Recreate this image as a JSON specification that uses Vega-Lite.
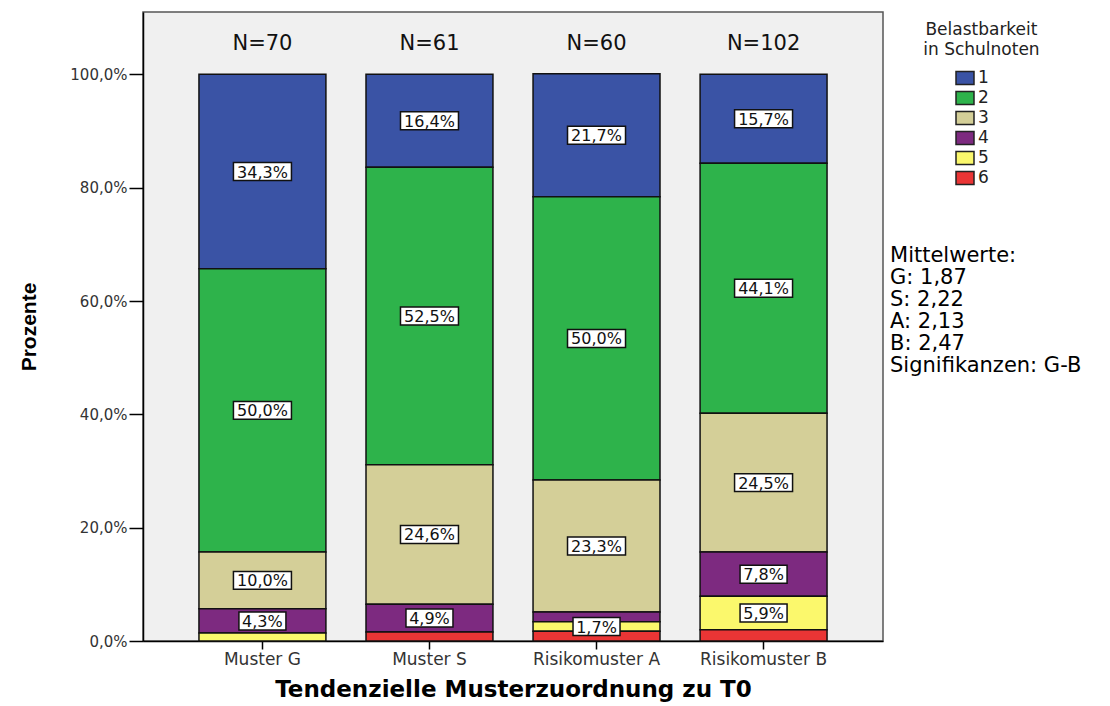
{
  "$schema": "https://vega.github.io/schema/vega-lite/v6.json",
  "autosize": {"type": "none"},
  "padding": {"left": 143, "top": 12, "right": 227, "bottom": 65},
  "width": 740,
  "height": 629,
  "background": "white",
  "config": {
    "view": {"fill": "#F0F0F0", "stroke": "#555555", "strokeWidth": 1.5},
    "axis": {"grid": false, "domainColor": "#000000", "domainWidth": 1.5, "tickColor": "#000000", "tickWidth": 1.5, "labelColor": "#333333", "titleColor": "#000000"}
  },
  "layer": [
    {
      "data": {"values": [
        {"group": "Muster G", "grade": "1", "pct": 0.343, "label": "34,3%"},
        {"group": "Muster G", "grade": "2", "pct": 0.500, "label": "50,0%"},
        {"group": "Muster G", "grade": "3", "pct": 0.100, "label": "10,0%"},
        {"group": "Muster G", "grade": "4", "pct": 0.043, "label": "4,3%"},
        {"group": "Muster G", "grade": "5", "pct": 0.014, "label": ""},
        {"group": "Muster S", "grade": "1", "pct": 0.164, "label": "16,4%"},
        {"group": "Muster S", "grade": "2", "pct": 0.525, "label": "52,5%"},
        {"group": "Muster S", "grade": "3", "pct": 0.246, "label": "24,6%"},
        {"group": "Muster S", "grade": "4", "pct": 0.049, "label": "4,9%"},
        {"group": "Muster S", "grade": "6", "pct": 0.016, "label": ""},
        {"group": "Risikomuster A", "grade": "1", "pct": 0.217, "label": "21,7%"},
        {"group": "Risikomuster A", "grade": "2", "pct": 0.500, "label": "50,0%"},
        {"group": "Risikomuster A", "grade": "3", "pct": 0.233, "label": "23,3%"},
        {"group": "Risikomuster A", "grade": "4", "pct": 0.017, "label": ""},
        {"group": "Risikomuster A", "grade": "5", "pct": 0.017, "label": "1,7%"},
        {"group": "Risikomuster A", "grade": "6", "pct": 0.017, "label": ""},
        {"group": "Risikomuster B", "grade": "1", "pct": 0.157, "label": "15,7%"},
        {"group": "Risikomuster B", "grade": "2", "pct": 0.441, "label": "44,1%"},
        {"group": "Risikomuster B", "grade": "3", "pct": 0.245, "label": "24,5%"},
        {"group": "Risikomuster B", "grade": "4", "pct": 0.078, "label": "7,8%"},
        {"group": "Risikomuster B", "grade": "5", "pct": 0.059, "label": "5,9%"},
        {"group": "Risikomuster B", "grade": "6", "pct": 0.020, "label": ""}
      ]},
      "transform": [
        {"stack": "pct", "groupby": ["group"], "sort": [{"field": "grade", "order": "descending"}], "as": ["y0", "y1"]},
        {"calculate": "(datum.y0 + datum.y1) / 2", "as": "ymid"}
      ],
      "encoding": {
        "x": {
          "field": "group", "type": "nominal",
          "sort": ["Muster G", "Muster S", "Risikomuster A", "Risikomuster B"],
          "scale": {"domain": ["Muster G", "Muster S", "Risikomuster A", "Risikomuster B"], "paddingInner": 0.24, "paddingOuter": 0.335},
          "axis": {
            "title": "Tendenzielle Musterzuordnung zu T0",
            "titleFont": "DejaVu Sans", "titleFontWeight": "bold", "titleFontSize": 23, "titlePadding": 11,
            "labelAngle": 0, "labelFont": "DejaVu Sans", "labelFontSize": 17, "labelPadding": 2,
            "tickSize": 8
          }
        }
      },
      "layer": [
        {
          "mark": {"type": "bar", "stroke": "#111111", "strokeWidth": 1.5},
          "encoding": {
            "y": {
              "field": "y1", "type": "quantitative",
              "scale": {"domain": [0, 1.11], "nice": false, "zero": true},
              "axis": {
                "values": [0, 0.2, 0.4, 0.6, 0.8, 1.0],
                "labelExpr": "replace(format(datum.value, '.1%'), '.', ',')",
                "labelFont": "DejaVu Sans", "labelFontSize": 15, "labelPadding": 2,
                "tickSize": 14,
                "title": "Prozente", "titleFont": "Liberation Sans", "titleFontWeight": "bold", "titleFontSize": 21, "titlePadding": 30
              }
            },
            "y2": {"field": "y0"},
            "color": {
              "field": "grade", "type": "nominal",
              "scale": {"domain": ["1", "2", "3", "4", "5", "6"], "range": ["#3A53A5", "#2EB34B", "#D4CF98", "#7D2A80", "#FBF86C", "#EA3535"]},
              "legend": {
                "title": null, "orient": "none", "legendX": 812, "legendY": 56,
                "symbolType": "M-1,-0.72H1V0.72H-1Z", "symbolSize": 324,
                "symbolStrokeColor": "#222222", "symbolStrokeWidth": 1.5, "symbolOpacity": 1,
                "labelFont": "DejaVu Sans", "labelFontSize": 17, "labelColor": "#222222", "labelOffset": 3,
                "rowPadding": 0, "padding": 0
              }
            }
          }
        },
        {
          "transform": [{"filter": "length(datum.label) == 5"}],
          "mark": {"type": "point", "shape": "M-1,-0.31H1V0.31H-1Z", "size": 3364, "filled": true, "fill": "white", "stroke": "#111111", "strokeWidth": 1.5, "opacity": 1},
          "encoding": {"y": {"field": "ymid", "type": "quantitative"}}
        },
        {
          "transform": [{"filter": "length(datum.label) == 4"}],
          "mark": {"type": "point", "shape": "M-1,-0.383H1V0.383H-1Z", "size": 2209, "filled": true, "fill": "white", "stroke": "#111111", "strokeWidth": 1.5, "opacity": 1},
          "encoding": {"y": {"field": "ymid", "type": "quantitative"}}
        },
        {
          "transform": [{"filter": "length(datum.label) > 0"}],
          "mark": {"type": "text", "font": "DejaVu Sans", "fontSize": 16, "color": "#111111", "baseline": "middle", "align": "center", "dy": 1},
          "encoding": {"y": {"field": "ymid", "type": "quantitative"}, "text": {"field": "label"}}
        },
        {
          "data": {"values": [
            {"group": "Muster G", "nlabel": "N=70"},
            {"group": "Muster S", "nlabel": "N=61"},
            {"group": "Risikomuster A", "nlabel": "N=60"},
            {"group": "Risikomuster B", "nlabel": "N=102"}
          ]},
          "mark": {"type": "text", "font": "DejaVu Sans", "fontSize": 21, "color": "#111111", "baseline": "middle", "align": "center"},
          "encoding": {"y": {"datum": 1.053, "type": "quantitative"}, "text": {"field": "nlabel"}}
        }
      ]
    },
    {
      "data": {"values": [
        {"note": "Belastbarkeit\nin Schulnoten", "kind": "legendtitle"},
        {"note": "Mittelwerte:\nG: 1,87\nS: 2,22\nA: 2,13\nB: 2,47\nSignifikanzen: G-B", "kind": "means"}
      ]},
      "layer": [
        {
          "transform": [{"filter": "datum.kind == 'legendtitle'"}],
          "mark": {"type": "text", "font": "DejaVu Sans", "fontSize": 17, "lineHeight": 20, "color": "#222222", "align": "center", "baseline": "top", "lineBreak": "\n", "clip": false},
          "encoding": {
            "x": {"datum": 1.133, "type": "quantitative", "scale": {"domain": [0, 1], "nice": false}, "axis": null},
            "y": {"datum": 1.092, "type": "quantitative"},
            "text": {"field": "note"}
          }
        },
        {
          "transform": [{"filter": "datum.kind == 'means'"}],
          "mark": {"type": "text", "font": "DejaVu Sans", "fontSize": 21, "lineHeight": 22, "color": "#000000", "align": "left", "baseline": "top", "lineBreak": "\n", "clip": false},
          "encoding": {
            "x": {"datum": 1.0095, "type": "quantitative", "scale": {"domain": [0, 1], "nice": false}, "axis": null},
            "y": {"datum": 0.699, "type": "quantitative"},
            "text": {"field": "note"}
          }
        }
      ]
    }
  ],
  "resolve": {"scale": {"x": "independent"}}
}
